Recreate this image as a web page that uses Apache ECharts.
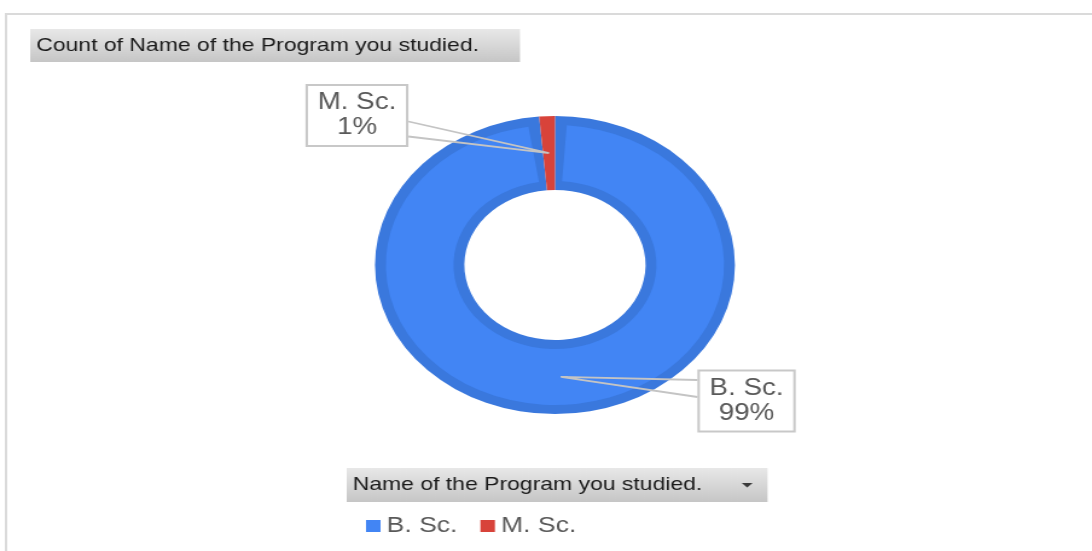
<!DOCTYPE html>
<html>
<head>
<meta charset="utf-8" />
<title>Count of Name of the Program you studied.</title>
<script src="https://cdn.jsdelivr.net/npm/echarts@6/dist/echarts.min.js"></script>
<style>
  html, body { margin: 0; padding: 0; background: #fff; overflow: hidden; }
  /* the reference is stretched sideways, so the whole chart is too */
  #main { width: 904px; height: 551px; transform: scaleX(1.208); transform-origin: 0 0; }
</style>
</head>
<body>
<div id="main"></div>
<script>
var programs = ['B. Sc.', 'M. Sc.'];
var counts = [141, 2];
var faceColors = ['#4285f4', '#d8433a'];
var edgeColors = ['#3a78dd', '#d8433a'];
var chartTitle = 'Count of Name of the Program you studied.';
var fieldName = 'Name of the Program you studied.';

var font = 'Liberation Sans, Arial, sans-serif';
var center = [459.4, 265];
var bandAngle = 4;   // dark edge beside the small slice, degrees

// where the two callout boxes sit, and where the wedge meets the box
var callouts = [
  { x: 618, y: 401, edge: -1, dy: [-21, -4] },
  { x: 295.5, y: 115.5, edge: 1, dy: [6, 21] }
];

var total = counts.reduce(function (a, b) { return a + b; }, 0);
var smallAngle = counts[1] / total * 360;

function grey() {
  return new echarts.graphic.LinearGradient(0, 0, 0, 1, [
    { offset: 0, color: '#e8e8e8' },
    { offset: 1, color: '#c6c6c6' }
  ]);
}

function setProgramPie(domId) {
  var myChart = echarts.init(document.getElementById(domId));

  var option = {
    animation: false,
    title: [{
      text: chartTitle,
      left: 25, top: 29,
      padding: [6, 34, 6, 5],
      backgroundColor: grey(),
      textStyle: { fontFamily: font, fontSize: 19, fontWeight: 'normal', color: '#1a1a1a', lineHeight: 21 }
    }, {
      text: fieldName,
      left: 287, top: 468,
      padding: [7, 54, 7, 5],
      backgroundColor: grey(),
      textStyle: { fontFamily: font, fontSize: 19, fontWeight: 'normal', color: '#1a1a1a', lineHeight: 20 }
    }],
    legend: {
      left: 303, top: 515,
      padding: 0,
      icon: 'rect',
      itemWidth: 12, itemHeight: 12,
      itemGap: 19,
      selectedMode: false,
      textStyle: { fontFamily: font, fontSize: 22, color: '#595959' },
      data: programs.map(function (n, i) {
        return { name: n, itemStyle: { color: faceColors[i] } };
      })
    },
    graphic: [{
      type: 'rect',
      z: 100,
      shape: { x: 5, y: 14, width: 1000, height: 600 },
      style: { fill: null, stroke: '#dadada', lineWidth: 2 },
      silent: true
    }, {
      type: 'polygon',
      z: 100,
      shape: { points: [[614, 483], [623, 483], [618.5, 487.5]] },
      style: { fill: '#3a3a3a' },
      silent: true
    }],
    series: [{
      // darker rim
      type: 'pie',
      z: 2,
      center: center,
      radius: [75, 149],
      startAngle: 90,
      clockwise: true,
      silent: true,
      label: { show: false },
      labelLine: { show: false },
      data: programs.map(function (n, i) {
        return { name: n, value: counts[i], itemStyle: { color: edgeColors[i] } };
      })
    }, {
      // lighter face of the big slice
      type: 'pie',
      z: 3,
      center: center,
      radius: [84, 140],
      startAngle: 90 - bandAngle,
      minAngle: smallAngle + 2 * bandAngle,
      clockwise: true,
      silent: true,
      label: { show: false },
      labelLine: { show: false },
      data: programs.map(function (n, i) {
        return { name: n, value: counts[i], itemStyle: { color: i === 0 ? faceColors[i] : 'rgba(0,0,0,0)' } };
      })
    }, {
      // callouts only
      type: 'pie',
      z: 5,
      center: center,
      radius: [0, 112],
      startAngle: 90,
      clockwise: true,
      silent: true,
      percentPrecision: 0,
      avoidLabelOverlap: false,
      itemStyle: { color: 'rgba(0,0,0,0)' },
      label: {
        show: true,
        position: 'outside',
        formatter: '{b}\n{d}%',
        fontFamily: font,
        fontSize: 23,
        lineHeight: 25,
        color: '#595959',
        backgroundColor: '#fff',
        borderColor: '#c8c8c8',
        borderWidth: 2,
        padding: [5, 8, 4, 8],
        align: 'center'
      },
      labelLine: {
        show: true,
        lineStyle: { color: '#c4c4c4', width: 1.8 }
      },
      labelLayout: function (p) {
        var c = callouts[p.dataIndex];
        var res = { x: c.x, y: c.y, align: 'center', verticalAlign: 'middle' };
        var pts = p.labelLinePoints;
        if (pts && pts.length) {
          var ex = c.x + c.edge * p.labelRect.width / 2;
          res.labelLinePoints = [[ex, c.y + c.dy[0]], pts[0], [ex, c.y + c.dy[1]]];
        }
        return res;
      },
      data: programs.map(function (n, i) {
        return { name: n, value: counts[i] };
      })
    }]
  };

  myChart.setOption(option);
  return myChart;
}
setProgramPie('main');
</script>
</body>
</html>
